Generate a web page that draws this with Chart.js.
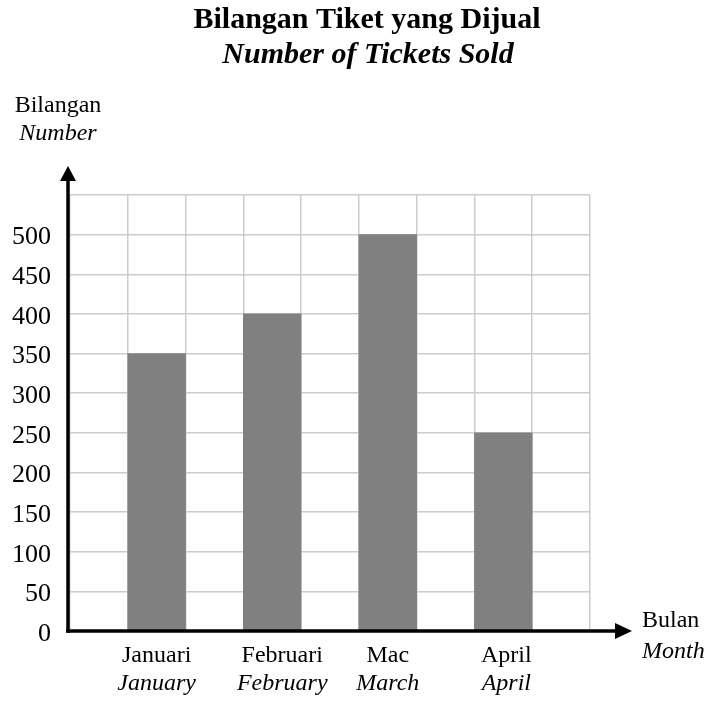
<!DOCTYPE html>
<html>
<head>
<meta charset="utf-8">
<title>Bilangan Tiket yang Dijual</title>
<script src="https://cdn.jsdelivr.net/npm/chart.js@4.4.1/dist/chart.umd.min.js"></script>
<style>
  html, body { margin: 0; padding: 0; background: #ffffff; }
  #wrap { width: 708px; height: 703px; }
</style>
</head>
<body>
<div id="wrap"><canvas id="tickets-bar" width="708" height="703"></canvas></div>
<script>
// ── DATA ────────────────────────────────────────────────────
const months   = ['Januari', 'Februari', 'Mac', 'April'];
const monthsEn = ['January', 'February', 'March', 'April'];
const tickets  = [350, 400, 500, 250];
const yTickMax = 500;   // last labelled tick
const yMax     = 550;   // top grid line
const yStep    = 50;

// ── LAYOUT ──────────────────────────────────────────────────
const SERIF = '"Liberation Serif", "Times New Roman", serif';
const labelNudge = [0, 10, 0, 3];   // small x shifts of the month labels

// one empty column between (and around) the bars
const slots = [];
const values = [];
months.forEach((m, i) => {
  slots.push('');  values.push(null);
  slots.push(m);   values.push(tickets[i]);
});
slots.push(''); values.push(null);

// ── AXES, ARROWS AND TEXT ───────────────────────────────────
const decorPlugin = {
  id: 'decor',
  afterDraw(chart) {
    const { ctx, chartArea: a, scales: { x, y } } = chart;
    const y0 = y.getPixelForValue(0);
    const ax = a.left - 2;

    ctx.save();
    ctx.fillStyle = '#000';
    ctx.strokeStyle = '#000';
    ctx.lineWidth = 3.5;

    // y axis + arrow
    ctx.beginPath();
    ctx.moveTo(ax, y0 + 1.75);
    ctx.lineTo(ax, a.top - 16);
    ctx.stroke();
    ctx.beginPath();
    ctx.moveTo(ax, a.top - 29);
    ctx.lineTo(ax - 8, a.top - 14);
    ctx.lineTo(ax + 8, a.top - 14);
    ctx.closePath();
    ctx.fill();

    // x axis + arrow
    ctx.beginPath();
    ctx.moveTo(ax - 1.75, y0);
    ctx.lineTo(a.right + 27, y0);
    ctx.stroke();
    ctx.beginPath();
    ctx.moveTo(a.right + 42, y0);
    ctx.lineTo(a.right + 25, y0 - 8);
    ctx.lineTo(a.right + 25, y0 + 8);
    ctx.closePath();
    ctx.fill();

    // titles
    ctx.textAlign = 'center';
    ctx.textBaseline = 'alphabetic';
    ctx.font = 'bold 30px ' + SERIF;
    ctx.fillText('Bilangan Tiket yang Dijual', 367, 28);
    ctx.font = 'italic bold 30px ' + SERIF;
    ctx.fillText('Number of Tickets Sold', 368, 63);

    // y axis name
    ctx.font = '24px ' + SERIF;
    ctx.fillText('Bilangan', 58, 112);
    ctx.font = 'italic 24px ' + SERIF;
    ctx.fillText('Number', 58, 140);

    // month labels under each bar
    months.forEach((m, i) => {
      const px = x.getPixelForValue(i * 2 + 1) + labelNudge[i];
      ctx.font = '24px ' + SERIF;
      ctx.fillText(m, px, y0 + 31);
      ctx.font = 'italic 24px ' + SERIF;
      ctx.fillText(monthsEn[i], px, y0 + 59);
    });

    // x axis name
    ctx.textAlign = 'left';
    ctx.font = '24px ' + SERIF;
    ctx.fillText('Bulan', a.right + 52, y0 - 4);
    ctx.font = 'italic 24px ' + SERIF;
    ctx.fillText('Month', a.right + 52, y0 + 27);
    ctx.restore();
  }
};

// ── CHART ───────────────────────────────────────────────────
new Chart(document.getElementById('tickets-bar'), {
  type: 'bar',
  data: {
    labels: slots,
    datasets: [{
      label: 'Tickets',
      data: values,
      backgroundColor: '#808080',
      borderWidth: 0,
      barPercentage: 1,
      categoryPercentage: 1,
    }]
  },
  options: {
    responsive: false,
    animation: false,
    layout: { padding: { left: 10, right: 118, top: 195, bottom: 72 } },
    plugins: { legend: { display: false }, tooltip: { enabled: false } },
    scales: {
      x: {
        grid: { color: '#cccccc', lineWidth: 1.5, drawTicks: false, offset: true },
        border: { display: false },
        ticks: { display: false },
      },
      y: {
        min: 0,
        max: yMax,
        afterFit: s => { s.width = 60; },
        grid: { color: '#cccccc', lineWidth: 1.5, drawTicks: false },
        border: { display: false },
        ticks: {
          stepSize: yStep,
          padding: 19,
          labelOffset: 3,
          color: '#000',
          font: { family: SERIF, size: 26 },
          callback: v => (v <= yTickMax ? v : ''),
        },
      }
    }
  },
  plugins: [decorPlugin]
});
</script>
</body>
</html>
